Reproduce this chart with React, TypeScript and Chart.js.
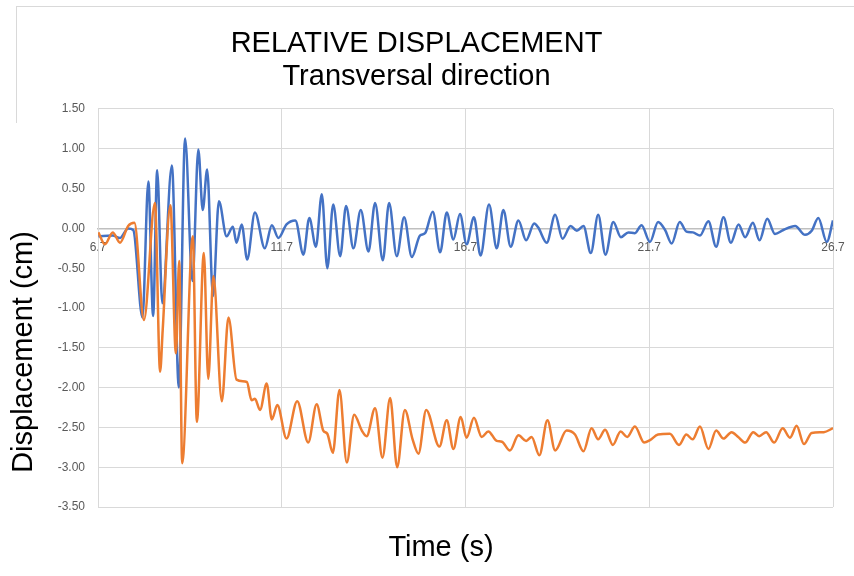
import React, { useEffect, useRef } from "react";
import { Chart, registerables } from "chart.js";

Chart.register(...registerables);

const TITLE_LINES = ["RELATIVE DISPLACEMENT", "Transversal direction"];
const X_TITLE = "Time (s)";
const Y_TITLE = "Displacement (cm)";
const X_TICKS = [6.7, 11.7, 16.7, 21.7, 26.7];
const Y_MIN = -3.5;
const Y_MAX = 1.5;
const Y_STEP = 0.5;

// Series 1 (blue): time (s) and displacement (cm) at turning points
const BLUE_T = [6.71, 7.1, 7.3, 7.52, 7.66, 7.91, 8.07, 8.2, 8.31, 8.45, 8.71, 8.9, 9.07, 9.27, 9.43, 9.55, 9.67, 9.83, 9.99, 10.2, 10.37, 10.47, 10.61, 10.76, 10.97, 11.24, 11.43, 11.61, 11.83, 12.07, 12.29, 12.45, 12.63, 12.79, 12.94, 13.1, 13.29, 13.45, 13.65, 13.85, 14.06, 14.24, 14.45, 14.62, 14.83, 15.03, 15.24, 15.46, 15.6, 15.81, 16.01, 16.19, 16.37, 16.55, 16.73, 16.93, 17.11, 17.34, 17.55, 17.73, 17.93, 18.14, 18.35, 18.57, 18.68, 18.91, 19.14, 19.34, 19.56, 19.73, 19.91, 20.11, 20.31, 20.51, 20.72, 20.93, 21.13, 21.31, 21.49, 21.72, 21.94, 22.13, 22.31, 22.53, 22.71, 22.89, 23.08, 23.31, 23.52, 23.72, 23.92, 24.13, 24.31, 24.52, 24.7, 24.91, 25.12, 25.35, 25.67, 25.94, 26.12, 26.3, 26.53, 26.7];
const BLUE_V = [-0.1, -0.09, -0.12, 0.0, -0.02, -1.12, 0.59, -1.1, 0.73, -0.94, 0.79, -2.0, 1.13, -0.66, 0.99, 0.23, 0.74, -0.85, 0.34, -0.1, 0.02, -0.18, 0.05, -0.39, 0.2, -0.25, 0.04, -0.12, 0.05, 0.1, -0.33, 0.13, -0.23, 0.43, -0.5, 0.3, -0.35, 0.28, -0.25, 0.23, -0.29, 0.32, -0.4, 0.32, -0.35, 0.14, -0.36, -0.09, -0.06, 0.21, -0.3, 0.2, -0.14, 0.18, -0.2, 0.14, -0.34, 0.3, -0.25, 0.23, -0.23, 0.1, -0.15, 0.06, 0.01, -0.18, 0.17, -0.13, 0.03, -0.03, 0.03, -0.31, 0.17, -0.33, 0.08, -0.11, -0.05, -0.06, 0.04, -0.17, 0.08, -0.02, -0.19, 0.08, -0.04, -0.05, -0.09, 0.09, -0.23, 0.14, -0.18, 0.05, -0.11, 0.07, -0.15, 0.12, -0.07, -0.02, 0.03, -0.08, -0.03, 0.13, -0.17, 0.1];

// Series 2 (orange)
const ORANGE_T = [6.71, 6.89, 7.1, 7.3, 7.52, 7.69, 7.95, 8.25, 8.39, 8.46, 8.67, 8.82, 8.91, 8.99, 9.28, 9.39, 9.58, 9.7, 9.84, 10.07, 10.25, 10.47, 10.75, 10.88, 10.97, 11.11, 11.29, 11.43, 11.58, 11.83, 12.12, 12.42, 12.65, 12.83, 12.94, 13.09, 13.27, 13.47, 13.67, 13.88, 14.01, 14.24, 14.44, 14.65, 14.84, 15.05, 15.26, 15.42, 15.63, 15.99, 16.19, 16.37, 16.57, 16.73, 16.93, 17.14, 17.32, 17.55, 17.69, 17.91, 18.14, 18.35, 18.5, 18.71, 18.93, 19.14, 19.45, 19.68, 19.91, 20.13, 20.31, 20.5, 20.71, 20.92, 21.1, 21.31, 21.56, 21.72, 21.94, 22.26, 22.51, 22.71, 22.88, 23.08, 23.31, 23.52, 23.72, 23.94, 24.12, 24.31, 24.53, 24.69, 24.88, 25.1, 25.33, 25.53, 25.71, 25.91, 26.12, 26.45, 26.7];
const ORANGE_V = [-0.05, -0.2, -0.05, -0.18, 0.03, 0.07, -1.15, 0.32, -1.8, -1.28, 0.29, -1.57, -0.41, -2.95, -0.1, -2.43, -0.31, -1.89, -0.6, -2.17, -1.12, -1.9, -1.93, -2.16, -2.14, -2.28, -1.95, -2.4, -2.22, -2.64, -2.17, -2.69, -2.21, -2.54, -2.58, -2.82, -2.03, -2.94, -2.34, -2.54, -2.61, -2.26, -2.88, -2.13, -3.0, -2.28, -2.65, -2.83, -2.28, -2.74, -2.41, -2.77, -2.37, -2.63, -2.38, -2.62, -2.55, -2.67, -2.68, -2.79, -2.6, -2.67, -2.62, -2.85, -2.41, -2.79, -2.54, -2.59, -2.8, -2.51, -2.65, -2.53, -2.72, -2.55, -2.62, -2.49, -2.69, -2.66, -2.59, -2.58, -2.72, -2.59, -2.65, -2.49, -2.77, -2.54, -2.64, -2.56, -2.62, -2.69, -2.56, -2.61, -2.56, -2.69, -2.51, -2.63, -2.48, -2.71, -2.57, -2.56, -2.51];

const FONT = "'Liberation Sans', Arial, sans-serif";
const TICK_FONT = "'Liberation Sans Narrow', 'Liberation Sans', Arial, sans-serif";

// Moves the two title-only axes so their titles sit where the reference puts them
const titleOffsetPlugin = {
  id: "titleOffset",
  afterLayout(chart: any) {
    const xs = chart.scales.x2;
    if (xs) {
      xs.left -= 24.5;
      xs.right -= 24.5;
    }
    const ys = chart.scales.y2;
    if (ys) {
      ys.top += 44;
      ys.bottom += 44;
    }
  },
};

export default function App() {
  const canvasRef = useRef<HTMLCanvasElement>(null);

  useEffect(() => {
    const canvas = canvasRef.current;
    if (!canvas) return;
    const toPoints = (ts: number[], vs: number[]) => ts.map((t, i) => ({ x: t, y: vs[i] }));
    const chart = new Chart(canvas, {
      type: "line",
      data: {
        datasets: [
          {
            label: "Orange",
            data: toPoints(ORANGE_T, ORANGE_V),
            borderColor: "#ED7D31",
            backgroundColor: "#ED7D31",
            borderWidth: 2.5,
            pointRadius: 0,
            cubicInterpolationMode: "monotone",
            fill: false,
            xAxisID: "x",
            yAxisID: "y",
          },
          {
            label: "Blue",
            data: toPoints(BLUE_T, BLUE_V),
            borderColor: "#4472C4",
            backgroundColor: "#4472C4",
            borderWidth: 2.5,
            pointRadius: 0,
            cubicInterpolationMode: "monotone",
            fill: false,
            xAxisID: "x",
            yAxisID: "y",
          },
        ],
      },
      options: {
        responsive: false,
        animation: false,
        devicePixelRatio: 1,
        layout: { padding: { left: 0, right: 21, top: 0, bottom: 0 } },
        plugins: {
          legend: { display: false },
          tooltip: { enabled: false },
          title: {
            display: true,
            text: TITLE_LINES,
            color: "#000000",
            font: { size: 29, family: FONT, weight: "normal", lineHeight: 1.15 },
            padding: { top: 27, bottom: 15.3 },
          },
        },
        scales: {
          x: {
            type: "linear",
            position: { y: 0 },
            min: X_TICKS[0],
            max: X_TICKS[X_TICKS.length - 1],
            afterBuildTicks: (scale: any) => {
              scale.ticks = X_TICKS.map((v) => ({ value: v }));
            },
            afterFit: (scale: any) => {
              scale.paddingLeft = 0;
              scale.paddingRight = 0;
            },
            ticks: {
              autoSkip: false,
              maxRotation: 0,
              padding: 12,
              color: "#595959",
              font: { size: 12, family: TICK_FONT },
              callback: (v: any) => Number(v).toFixed(1),
            },
            grid: { color: "#d9d9d9", drawTicks: false, lineWidth: 1 },
            border: { color: "#bfbfbf", width: 1.5 },
          },
          x2: {
            type: "linear",
            position: "bottom",
            min: X_TICKS[0],
            max: X_TICKS[X_TICKS.length - 1],
            ticks: { display: false },
            grid: { display: false, drawTicks: false },
            border: { display: false },
            title: {
              display: true,
              text: X_TITLE,
              color: "#000000",
              font: { size: 29, family: FONT, weight: "normal", lineHeight: 1.15 },
              padding: { top: 4, bottom: 11 },
            },
            afterFit: (scale: any) => {
              scale.height = 69;
              scale.paddingLeft = 0;
              scale.paddingRight = 0;
            },
          },
          y: {
            type: "linear",
            position: "left",
            weight: 0,
            min: Y_MIN,
            max: Y_MAX,
            ticks: {
              stepSize: Y_STEP,
              padding: 13,
              color: "#595959",
              font: { size: 12, family: TICK_FONT },
              callback: (v: any) => Number(v).toFixed(2),
            },
            grid: { color: "#d9d9d9", drawTicks: false, lineWidth: 1 },
            border: { color: "#d9d9d9" },
            afterFit: (scale: any) => {
              scale.width = 48;
            },
          },
          y2: {
            type: "linear",
            position: "left",
            weight: 1,
            min: Y_MIN,
            max: Y_MAX,
            ticks: { display: false },
            grid: { display: false, drawTicks: false },
            border: { display: false },
            title: {
              display: true,
              text: Y_TITLE,
              color: "#000000",
              font: { size: 29, family: FONT, weight: "normal", lineHeight: 1.15 },
              padding: { top: 7, bottom: 0 },
            },
            afterFit: (scale: any) => {
              scale.width = 50;
            },
          },
        },
      },
      plugins: [titleOffsetPlugin],
    } as any);
    return () => chart.destroy();
  }, []);

  return (
    <div style={{ position: "fixed", left: 0, top: 0, width: 854, height: 576, background: "#ffffff", overflow: "hidden" }}>
      <canvas ref={canvasRef} width={854} height={576} style={{ display: "block", width: 854, height: 576 }} />
      <div style={{ position: "absolute", left: 16, top: 6, right: 0, height: 1, background: "#d9d9d9" }} />
      <div style={{ position: "absolute", left: 16, top: 6, width: 1, height: 117, background: "#d9d9d9" }} />
    </div>
  );
}
